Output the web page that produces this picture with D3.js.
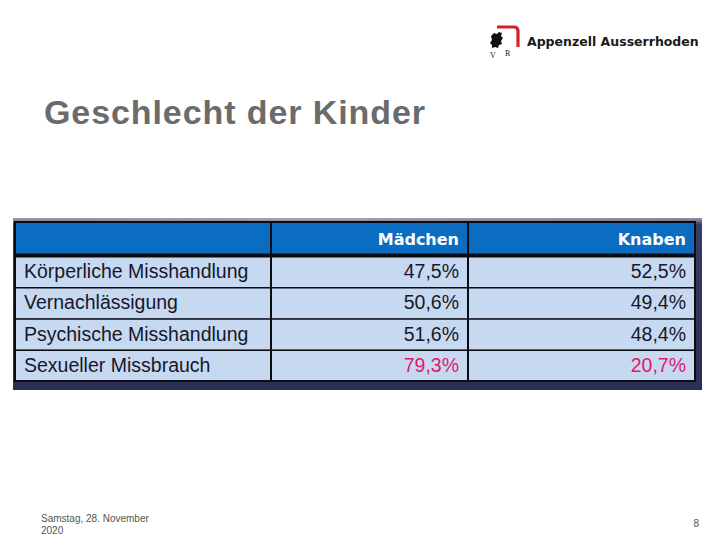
<!DOCTYPE html>
<html><head><meta charset="utf-8">
<script src="https://cdn.jsdelivr.net/npm/d3@7"></script>
<style>html,body{margin:0;padding:0;background:#fff;}svg{display:block;}</style>
</head><body>
<script>
const title = "Geschlecht der Kinder";
const columns = ["Mädchen", "Knaben"];
const categories = ["Körperliche Misshandlung", "Vernachlässigung", "Psychische Misshandlung", "Sexueller Missbrauch"];
const maedchen = [47.5, 50.6, 51.6, 79.3];
const knaben = [52.5, 49.4, 48.4, 20.7];
const highlight = [false, false, false, true];
const footerDate = ["Samstag, 28. November", "2020"];
const pageNumber = "8";
const orgName = "Appenzell Ausserrhoden";

const W = 720, H = 540;
const svg = d3.select("body").append("svg").attr("width", W).attr("height", H);
const defs = svg.append("defs");
const g1 = defs.append("linearGradient").attr("id","frame").attr("x1",0).attr("y1",0).attr("x2",0).attr("y2",1);
g1.append("stop").attr("offset","0").attr("stop-color","#8e8ea4");
g1.append("stop").attr("offset","0.04").attr("stop-color","#3a3d62");
g1.append("stop").attr("offset","1").attr("stop-color","#2b2e55");
const g2 = defs.append("linearGradient").attr("id","frameH").attr("x1",0).attr("y1",0).attr("x2",1).attr("y2",0);
g2.append("stop").attr("offset","0").attr("stop-color","#ffffff").attr("stop-opacity",0.15);
g2.append("stop").attr("offset","0.45").attr("stop-color","#ffffff").attr("stop-opacity",0.25);
g2.append("stop").attr("offset","1").attr("stop-color","#ffffff").attr("stop-opacity",0.05);

// Logo
const logo = svg.append("g");
logo.append("path").attr("d","M497,27 L514,27 Q518,27 518,31 L518,47").attr("fill","none").attr("stroke","#d2222a").attr("stroke-width",3.2);
logo.append("path").attr("d","M491,36 l3,-3 l3,1 l2,-2 l3,1 l-1,3 l2,2 l-2,3 l1,3 l-3,1 l-1,3 l-3,-1 l-3,1 l0,-3 l-2,-2 l2,-3 z").attr("fill","#111");
logo.append("text").attr("x",490).attr("y",58).attr("font-family","Liberation Serif").attr("font-size",8).attr("fill","#222").text("V");
logo.append("text").attr("x",505).attr("y",56).attr("font-family","Liberation Serif").attr("font-size",8).attr("fill","#222").text("R");
logo.append("text").attr("x",527).attr("y",46).attr("font-family","DejaVu Sans").attr("font-weight","bold").attr("font-size",12.5).attr("fill","#1a1a1a").text(orgName);

// Title
svg.append("text").attr("x",44).attr("y",124).attr("font-family","Liberation Sans, Arial").attr("font-weight","bold")
  .attr("font-size",34).attr("textLength",381).attr("lengthAdjust","spacing").attr("fill","#6b6b6b").text(title);

// Frame
svg.append("rect").attr("x",13).attr("y",218).attr("width",689).attr("height",172).attr("fill","url(#frame)");
svg.append("rect").attr("x",13).attr("y",218).attr("width",689).attr("height",4).attr("fill","url(#frameH)");

// Table geometry via scales
const x = d3.scaleOrdinal().domain(["label", ...columns]).range([15, 271, 468]);
const colRight = d3.scaleOrdinal().domain(["label", ...columns]).range([271, 468, 695]);
const headerTop = 222, headerBottom = 255;
const y = d3.scaleBand().domain(categories).range([256, 381]).paddingInner(0);

const table = svg.append("g");
table.append("rect").attr("x",15).attr("y",headerTop).attr("width",680).attr("height",headerBottom-headerTop).attr("fill","#0a6dc2");
table.selectAll("rect.row").data(categories).join("rect").attr("class","row")
  .attr("x",15).attr("y",d=>y(d)).attr("width",680).attr("height",y.bandwidth()).attr("fill","#c7d9f1");

const lineColor = "#0b0b12";
table.append("rect").attr("x",15).attr("y",headerTop).attr("width",680).attr("height",381-headerTop)
  .attr("fill","none").attr("stroke",lineColor).attr("stroke-width",2);
table.append("line").attr("x1",15).attr("x2",695).attr("y1",255.5).attr("y2",255.5).attr("stroke",lineColor).attr("stroke-width",4);
table.selectAll("line.rowline").data(categories.slice(1)).join("line").attr("class","rowline")
  .attr("x1",15).attr("x2",695).attr("y1",d=>y(d)+0.5).attr("y2",d=>y(d)+0.5).attr("stroke",lineColor).attr("stroke-width",1.6);
table.selectAll("line.colline").data(columns).join("line").attr("class","colline")
  .attr("x1",d=>x(d)).attr("x2",d=>x(d)).attr("y1",headerTop).attr("y2",381).attr("stroke",lineColor).attr("stroke-width",2);

table.selectAll("text.head").data(columns).join("text").attr("class","head")
  .attr("x",d=>colRight(d)-9).attr("y",245).attr("text-anchor","end")
  .attr("font-family","DejaVu Sans").attr("font-weight","bold").attr("font-size",16).attr("fill","#ffffff").text(d=>d);

const font = "Liberation Sans, Arial";
table.selectAll("text.lab").data(categories).join("text").attr("class","lab")
  .attr("x",24).attr("y",d=>y(d)+y.bandwidth()/2+6.5).attr("font-family",font).attr("font-size",19.5).attr("fill","#16172a").text(d=>d);

const fmt = v => d3.format(".1f")(v).replace(".", ",") + "%";
const vals = [maedchen, knaben];
columns.forEach((c, ci) => {
  table.selectAll("text.v"+ci).data(categories).join("text").attr("class","v"+ci)
    .attr("x",colRight(c)-9).attr("y",d=>y(d)+y.bandwidth()/2+6.5).attr("text-anchor","end")
    .attr("font-family",font).attr("font-size",19.5)
    .attr("fill",(d,i)=>highlight[i] ? "#e0186c" : "#16172a").text((d,i)=>fmt(vals[ci][i]));
});

svg.append("text").attr("x",41).attr("y",522).attr("font-family","Liberation Sans, Arial").attr("font-size",10).attr("fill","#555")
  .selectAll("tspan").data(footerDate).join("tspan").attr("x",41).attr("dy",(d,i)=>i?12:0).text(d=>d);
svg.append("text").attr("x",699).attr("y",527).attr("text-anchor","end").attr("font-family","Liberation Sans, Arial").attr("font-size",10).attr("fill","#555").text(pageNumber);
</script>
</body></html>
